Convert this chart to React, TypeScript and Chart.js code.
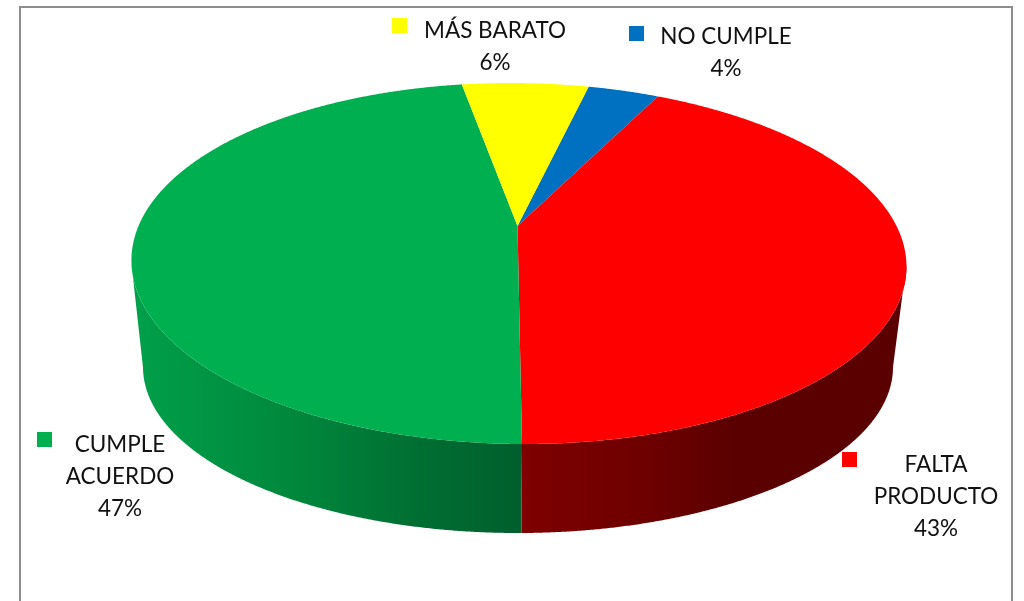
import React, { useEffect, useRef } from "react";
import { Chart, registerables } from "chart.js";

Chart.register(...registerables);

const categories = [["NO CUMPLE"], ["FALTA", "PRODUCTO"], ["CUMPLE", "ACUERDO"], ["MÁS BARATO"]];
const sliceValues = [3.6, 42.51, 47.44, 6.45];
const sliceColors = ["#0070C0", "#FF0000", "#00B050", "#FFFF00"];

const FONT = '22.5px Lato, "Open Sans", sans-serif';
const firstAngle = 14.3;

// Projection of the pie's disc on to the page.
const TOP_Y = 83, VERTEX_Y = 226, BOTTOM_Y = 444;
const C = -(BOTTOM_Y + TOP_Y - 2 * VERTEX_Y) / (BOTTOM_Y - TOP_Y);
const A = BOTTOM_Y * (1 + C) - VERTEX_Y;
const XC = 517.5, SKEW = 7, DX = 379;
const project = (u: number, v: number) => ({
  x: XC + (DX * u) / (1 + C * v) + SKEW * v,
  y: (A * v + VERTEX_Y) / (1 + C * v),
});
const TOP_CX = 518.5, TOP_CY = 264, TOP_RX = 387, TOP_RY = 180;
const BASE_CX = 518, BASE_CY = 367, BASE_RX = 375, BASE_RY = 166;
const baseOf = (p: { x: number; y: number }) => {
  const phi = Math.atan2((p.x - TOP_CX) / TOP_RX, -(p.y - TOP_CY) / TOP_RY);
  return {
    x: BASE_CX + BASE_RX * Math.sin(phi),
    y: BASE_CY - BASE_RY * Math.cos(phi),
  };
};

const sideShades: Record<string, [number, string][]> = {
  "#FF0000": [[0.5, "#800000"], [0.63, "#6e0000"], [0.72, "#5a0000"], [1, "#5a0000"]],
  "#00B050": [[0.13, "#00A04A"], [0.29, "#00873C"], [0.41, "#006E32"], [0.51, "#005F2D"]],
  "#0070C0": [[0, "#003860"], [1, "#003860"]],
  "#FFFF00": [[0, "#808000"], [1, "#808000"]],
};

// [x, y of first line's centre, square x, square y] for each category
const labelPlaces = [
  [726, 37, 629, 26],
  [936, 465, 842, 452],
  [120, 445, 37, 432],
  [495, 31, 392, 18],
];

const pie3d = {
  id: "pie3d",
  beforeDraw(chart: any) {
    const ctx = chart.ctx;
    ctx.save();
    ctx.fillStyle = "#fff";
    ctx.fillRect(0, 0, chart.width, chart.height);
    ctx.strokeStyle = "#8e8e8e";
    ctx.lineWidth = 2;
    ctx.beginPath();
    ctx.moveTo(20, 601);
    ctx.lineTo(20, 7);
    ctx.lineTo(1012, 7);
    ctx.lineTo(1012, 601);
    ctx.stroke();
    ctx.restore();
  },
  beforeDatasetsDraw(chart: any) {
    const ctx = chart.ctx;
    const arcs = chart.getDatasetMeta(0).data;
    const rim = (arc: any) => {
      const pts: { x: number; y: number }[] = [];
      const a0 = arc.startAngle + Math.PI / 2, a1 = arc.endAngle + Math.PI / 2;
      const n = Math.ceil((a1 - a0) / 0.004);
      for (let i = 0; i <= n; i++) {
        const t = a0 + ((a1 - a0) * i) / n;
        pts.push(project(Math.sin(t), -Math.cos(t)));
      }
      return pts;
    };
    ctx.save();
    arcs.forEach((arc: any, i: number) => {
      const front = rim(arc).filter((p) => p.y >= TOP_CY);
      if (front.length < 2) return;
      const g = ctx.createLinearGradient(0, 0, chart.width, 0);
      const stops = sideShades[sliceColors[i]];
      stops.forEach(([o, c]) => g.addColorStop(o, c));
      ctx.fillStyle = g;
      ctx.beginPath();
      front.forEach((p, k) => (k ? ctx.lineTo(p.x, p.y) : ctx.moveTo(p.x, p.y)));
      [...front].reverse().forEach((p) => {
        const b = baseOf(p);
        ctx.lineTo(b.x, b.y);
      });
      ctx.closePath();
      ctx.fill();
    });
    arcs.forEach((arc: any, i: number) => {
      ctx.fillStyle = sliceColors[i];
      ctx.beginPath();
      const v = project(0, 0);
      ctx.moveTo(v.x, v.y);
      rim(arc).forEach((p) => ctx.lineTo(p.x, p.y));
      ctx.closePath();
      ctx.fill();
    });
    const total = sliceValues.reduce((s, x) => s + x, 0);
    ctx.font = FONT;
    ctx.textAlign = "center";
    ctx.textBaseline = "middle";
    categories.forEach((lines, i) => {
      const [x, y, sx, sy] = labelPlaces[i];
      ctx.fillStyle = sliceColors[i];
      ctx.fillRect(sx, sy, 15, 15);
      ctx.fillStyle = "#111";
      const all = [...lines, `${Math.round((sliceValues[i] / total) * 100)}%`];
      all.forEach((t, k) => ctx.fillText(t, x, y + k * 32));
    });
    ctx.restore();
    return false;
  },
};

export default function App() {
  const ref = useRef<HTMLCanvasElement>(null);
  useEffect(() => {
    const chart = new Chart(ref.current!, {
      type: "pie",
      data: {
        labels: categories.map((c) => c.join(" ")),
        datasets: [{ data: sliceValues, backgroundColor: sliceColors, borderWidth: 0 }],
      },
      options: {
        responsive: false,
        animation: false,
        rotation: firstAngle,
        plugins: { legend: { display: false }, tooltip: { enabled: false } },
      },
      plugins: [pie3d],
    } as any);
    return () => chart.destroy();
  }, []);
  return (
    <canvas
      ref={ref}
      width={1024}
      height={601}
      style={{ position: "absolute", left: 0, top: 0, width: 1024, height: 601 }}
    />
  );
}
